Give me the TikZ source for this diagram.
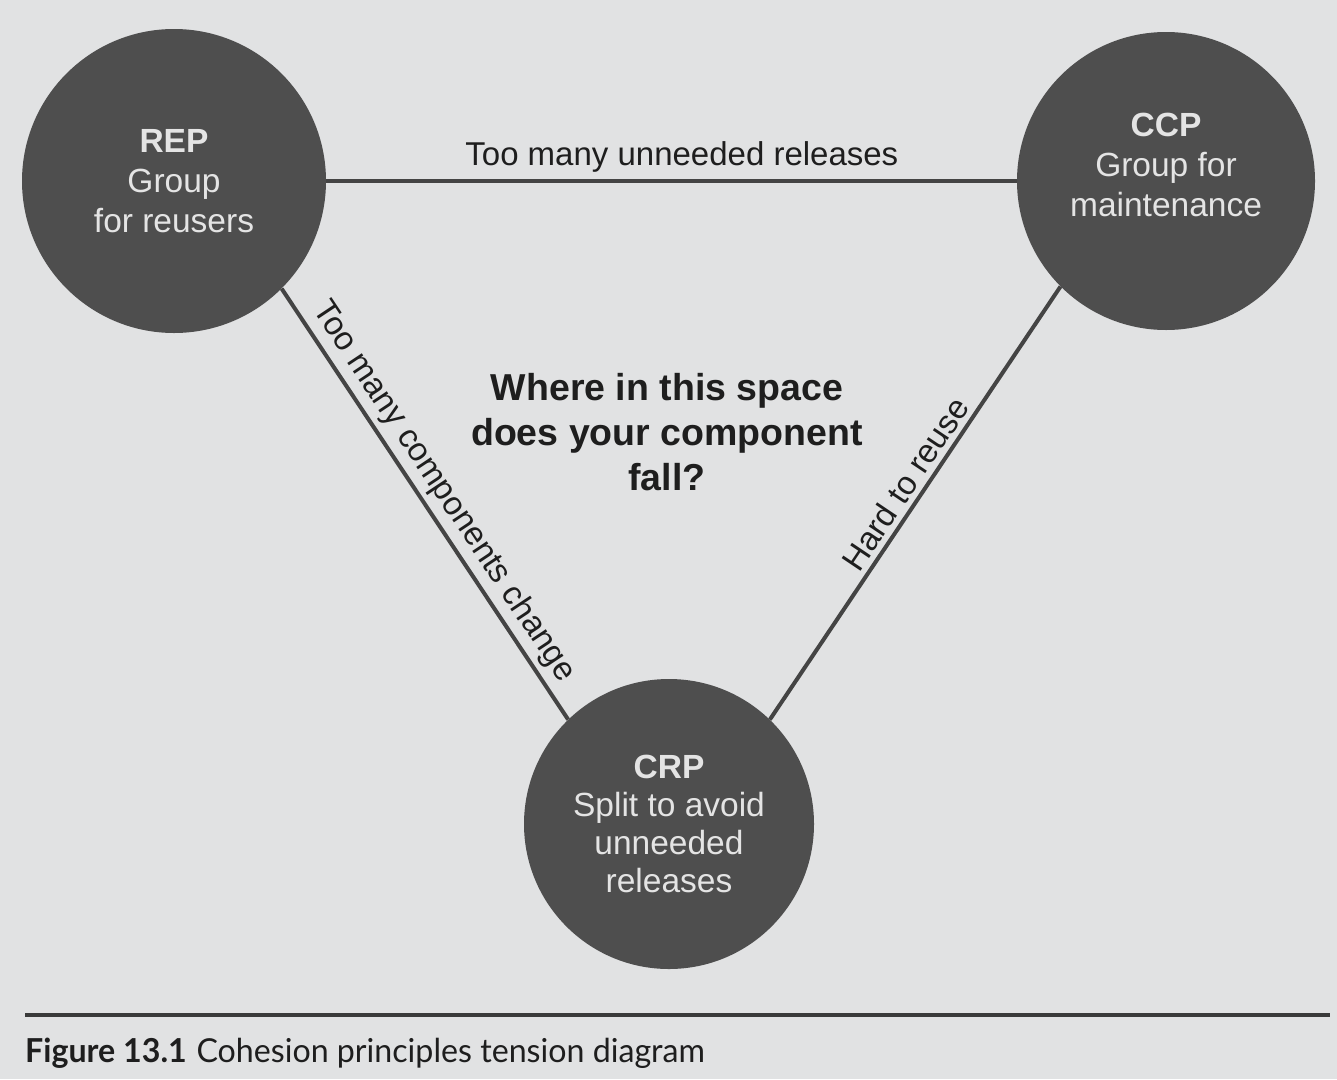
\documentclass[tikz,border=0pt]{standalone}
\usepackage{fontspec}
\setmainfont{Liberation Sans}
\newfontfamily\capfont{Lato}
\definecolor{paper}{HTML}{E1E2E3}
\definecolor{disc}{HTML}{4E4E4E}
\definecolor{disctext}{HTML}{E4E4E4}
\definecolor{ink}{HTML}{1E1E1E}
\definecolor{edge}{HTML}{444444}
\begin{document}
\begin{tikzpicture}[x=1pt,y=-1pt,
  principle/.style={circle,fill=disc,inner sep=0pt,text=disctext,align=center,
    font=\fontsize{33.5}{40}\selectfont},
  tieline/.style={draw=edge,line width=4.5pt},
  tielabel/.style={text=ink,font=\fontsize{33}{40}\selectfont,inner sep=2pt},
  question/.style={text=ink,align=center,font=\bfseries\fontsize{37.5}{45}\selectfont},
  captionrule/.style={draw=edge!85!black,line width=4pt}]
\fill[paper] (0,0) rectangle (1337,1079);
\useasboundingbox (0,0) rectangle (1337,1079);

\node[principle,minimum size=304pt] (rep) at (174,181)
  {\textbf{REP}\\Group\\for reusers};
\node[principle,minimum size=298pt] (ccp) at (1166,181)
  {\textbf{CCP}\\Group for\\maintenance\\[-8pt]};
\node[principle,minimum size=290pt] (crp) at (669,824)
  {\textbf{CRP}\\[-2pt]Split to avoid\\[-2pt]unneeded\\[-2pt]releases};

\draw[tieline] (rep) -- node[tielabel,pos=0.515,above=4pt] {Too many unneeded releases} (ccp);
\draw[tieline,line width=4pt] (rep.-45) -- node[tielabel,midway,sloped,above=3pt] {Too many components change} (crp.134);
\draw[tieline,line width=4pt] (crp.46) -- node[tielabel,pos=0.52,sloped,above=3pt] {Hard to reuse} (ccp.225);

\node[question] (q) at (667,432) {Where in this space\\does your component\\fall?};

\coordinate (ruleL) at (25,1015);
\coordinate (ruleR) at (1330,1015);
\draw[captionrule] (ruleL) -- (ruleR);
\node[anchor=base west,inner sep=0pt,text=ink,font=\capfont\fontsize{33}{40}\selectfont] (cap) at (25,1062)
  {\scalebox{0.975}[1]{\textbf{Figure 13.1}\hspace{0.3em}Cohesion principles tension diagram}};
\end{tikzpicture}
\end{document}
